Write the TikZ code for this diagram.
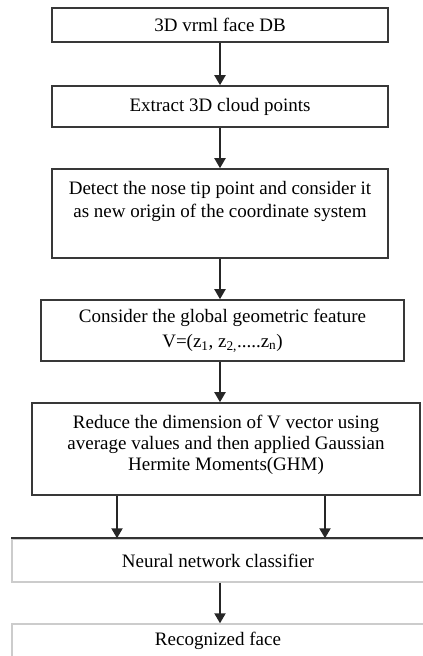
\documentclass[tikz,border=0pt]{standalone}
\usepackage{fontspec}
\setmainfont{Liberation Serif}
\usetikzlibrary{arrows.meta}

\begin{document}
\begin{tikzpicture}[x=1pt,y=-1pt,
    font=\fontsize{19}{23}\selectfont,
    box/.style={draw=black!78,line width=1.6pt,inner sep=0pt,align=center},
    pale/.style={draw=black!20,line width=1.4pt,inner sep=0pt},
    arr/.style={-{Triangle[width=11pt,length=10pt]},line width=2pt,black!85}]
  \useasboundingbox (0,0) rectangle (423,656);
  % boxes
  \node[box,minimum width=336,minimum height=34] (db) at (220,25) {3D vrml face DB};
  \node[box,minimum width=336,minimum height=41] (cloud) at (220,106.5) {Extract 3D cloud points};
  \node[box,minimum width=336,minimum height=89] (nose) at (220,213.5) {};
  \node[anchor=north,inner sep=0pt,align=center] (nosetxt) at ([yshift=-13pt]nose.north)
    {Detect the nose tip point and consider it\\as new origin of the coordinate system};
  \node[box,minimum width=363,minimum height=61] (feat) at (222.5,330.5)
    {Consider the global geometric feature\\[2pt]V=(z\textsubscript{1}, z\textsubscript{2,}.....z\textsubscript{n})};
  \node[box,minimum width=388,minimum height=92] (ghm) at (226,449) {};
  \node[anchor=north,inner sep=0pt,align=center] (ghmtxt) at ([yshift=-13pt]ghm.north)
    {Reduce the dimension of V vector using\\[-2pt]average values and then applied Gaussian\\[-2pt]Hermite Moments(GHM)};
  \node[pale,minimum width=412,minimum height=43] (nn) at (218,560.5) {Neural network classifier};
  \draw[black!80,line width=1.8pt] (nn.north west) -- (nn.north east);
  \node[pale,minimum width=412,minimum height=34] (face) at (218,641) {Recognized face};
  % arrows
  \draw[arr] (db) -- (cloud);
  \draw[arr] (cloud) -- (nose);
  \draw[arr] (nose.south) -- (nose.south |- feat.north);
  \draw[arr] (feat.south -| db) -- (ghm.north -| db);
  \foreach \dx in {-109,99} {
    \draw[arr] ([xshift=\dx pt]ghm.south) -- ([xshift=\dx pt]ghm.south |- nn.north);
  }
  \draw[arr] (nn.south -| db) -- (face.north -| db);
\end{tikzpicture}
\end{document}
